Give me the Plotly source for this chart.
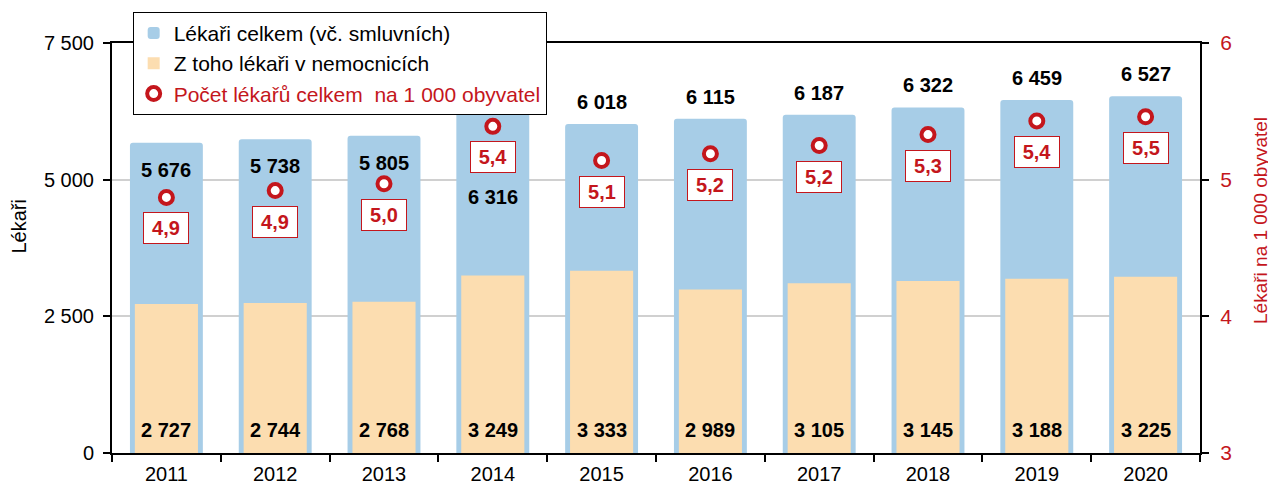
import plotly.graph_objects as go

years = ["2011", "2012", "2013", "2014", "2015", "2016", "2017", "2018", "2019", "2020"]
doctors_total = [5676, 5738, 5805, 6316, 6018, 6115, 6187, 6322, 6459, 6527]
doctors_hospital = [2727, 2744, 2768, 3249, 3333, 2989, 3105, 3145, 3188, 3225]
per_1000 = [4.87, 4.92, 4.97, 5.39, 5.14, 5.19, 5.25, 5.33, 5.43, 5.46]
per_1000_labels = ["4,9", "4,9", "5,0", "5,4", "5,1", "5,2", "5,2", "5,3", "5,4", "5,5"]

BLUE = "#A7CDE7"
ORANGE = "#FCDDB0"
RED = "#C4161C"
FONT = "Liberation Sans, Arial, sans-serif"


def fmt(v):
    return f"{v:,}".replace(",", " ")


fig = go.Figure()

fig.add_trace(
    go.Bar(
        x=years,
        y=doctors_total,
        name="Lékaři celkem (vč. smluvních)",
        marker=dict(color=BLUE, cornerradius=3, line=dict(width=0)),
        width=0.67,
    )
)
fig.add_trace(
    go.Bar(
        x=years,
        y=doctors_hospital,
        name="Z toho lékaři v nemocnicích",
        marker=dict(color=ORANGE, line=dict(width=0)),
        width=0.58,
    )
)
fig.add_trace(
    go.Scatter(
        x=years,
        y=per_1000,
        yaxis="y2",
        mode="markers",
        name=f"<span style='color:{RED}'>Počet lékařů celkem  na 1 000 obyvatel</span>",
        marker=dict(symbol="circle", size=13, color="white", line=dict(color=RED, width=4)),
    )
)

# hospital doctors: label near the bottom of the orange bar
for i, v in enumerate(doctors_hospital):
    fig.add_annotation(
        x=i, y=0, text=fmt(v), showarrow=False, yshift=23,
        font=dict(family=FONT, size=20, color="black", weight="bold"),
    )

# total labels: inside bar top for first years, under the rate box in 2014, above the bar otherwise
for i, (yr, v) in enumerate(zip(years, doctors_total)):
    if i < 3:
        shift = -27
    elif yr == "2014":
        shift = -89
    else:
        shift = 22
    fig.add_annotation(
        x=i, y=v, text=fmt(v), showarrow=False, yshift=shift,
        font=dict(family=FONT, size=20, color="black", weight="bold"),
    )

# rate labels in boxes below the markers
for i, (v, lab) in enumerate(zip(per_1000, per_1000_labels)):
    fig.add_annotation(
        x=i, y=v, yref="y2", text=lab, showarrow=False, yshift=-31,
        font=dict(family=FONT, size=20, color=RED, weight="bold"),
        bgcolor="white", bordercolor=RED, borderwidth=1, width=42, height=28,
    )

fig.add_annotation(
    xref="paper", yref="paper", x=-0.085, y=0.551, xanchor="center", yanchor="middle",
    text="Lékaři", textangle=-90,
    showarrow=False, font=dict(family=FONT, size=20, color="black"),
)
fig.add_annotation(
    xref="paper", yref="paper", x=1.055, y=0.568, xanchor="center", yanchor="middle",
    text="Lékaři na 1 000 obyvatel",
    textangle=-90, showarrow=False, font=dict(family=FONT, size=19, color=RED),
)

# page body has an 8px margin, so the figure is shrunk by that much
fig.update_layout(
    width=1268,
    height=477,
    margin=dict(l=104, r=76, t=35, b=32, autoexpand=False),
    plot_bgcolor="white",
    paper_bgcolor="white",
    barmode="overlay",
    separators=", ",
    font=dict(family=FONT, size=20, color="black"),
    showlegend=True,
    legend=dict(
        x=0.019, y=1.076, xanchor="left", yanchor="top",
        bgcolor="white", bordercolor="black", borderwidth=1,
        font=dict(family=FONT, size=21, color="black"),
        tracegroupgap=0, itemwidth=30,
    ),
    xaxis=dict(
        type="category", automargin=False, range=[-0.5, 9.5],
        showline=True, linecolor="black", linewidth=2, mirror=True,
        ticks="outside", tickson="boundaries", ticklen=7, tickwidth=2, tickcolor="black",
        tickfont=dict(size=20), tickangle=0, ticklabelstandoff=2,
    ),
    yaxis=dict(
        range=[0, 7500], tickvals=[0, 2500, 5000, 7500], automargin=False,
        showline=True, linecolor="black", linewidth=2,
        ticks="outside", ticklen=7, tickwidth=2, tickcolor="black",
        showgrid=True, gridcolor="#D0D0D0", gridwidth=2, zeroline=False,
        tickformat=",d", tickfont=dict(size=20), ticklabelstandoff=5,
    ),
    yaxis2=dict(
        range=[3, 6], tickvals=[3, 4, 5, 6], overlaying="y", side="right", automargin=False,
        showline=True, linecolor="black", linewidth=2,
        ticks="outside", ticklen=7, tickwidth=2, tickcolor="black",
        showgrid=False, zeroline=False, tickfont=dict(color=RED, size=21),
        ticklabelstandoff=7,
    ),
)

fig.write_html("out.html")
